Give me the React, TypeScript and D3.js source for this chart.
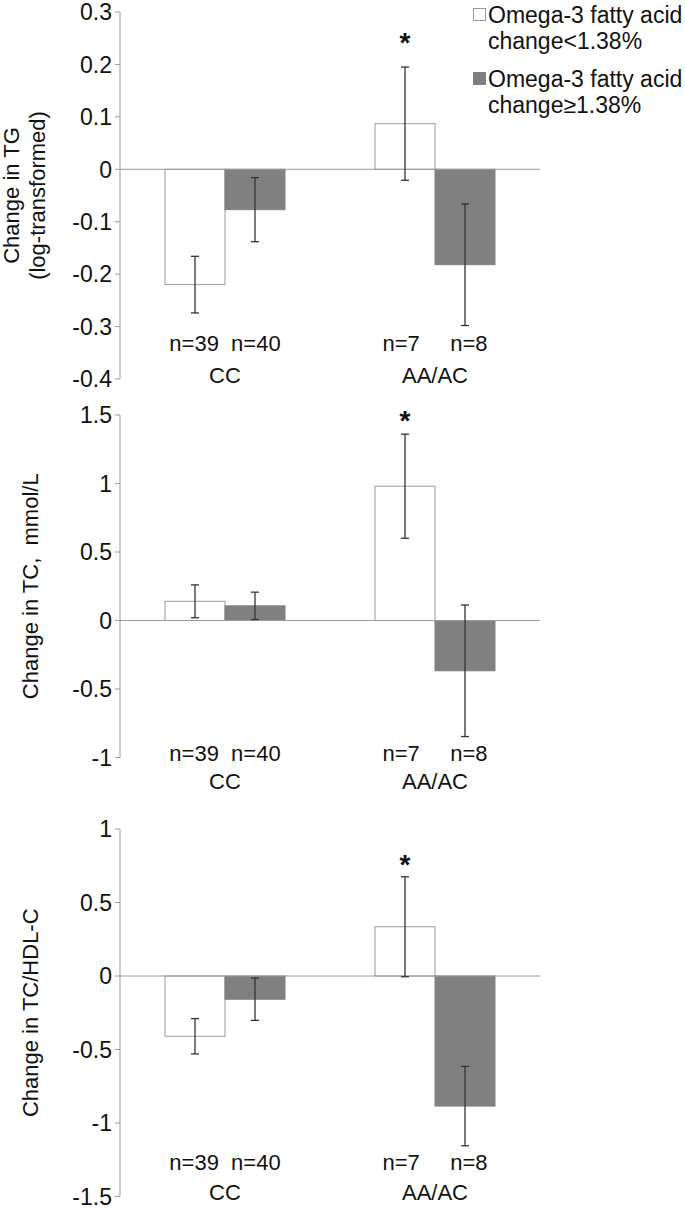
import React from 'react';
import * as d3 from 'd3';

// ---------- DATA ----------
const categories = ['CC', 'AA/AC'];
const seriesKeys = ['low', 'high'];
const legendLines = [
  ['Omega-3 fatty acid', 'change<1.38%'],
  ['Omega-3 fatty acid', 'change≥1.38%'],
];
const nLabels = ['n=39  n=40', 'n=7     n=8'];

// Panel 1: Change in TG (log-transformed)
const tgLow = [-0.22, 0.087];
const tgLowErr = [0.054, 0.108];
const tgHigh = [-0.077, -0.182];
const tgHighErr = [0.061, 0.116];
const tgTicks = [-0.4, -0.3, -0.2, -0.1, 0, 0.1, 0.2, 0.3];
const tgStar = [false, true];

// Panel 2: Change in TC, mmol/L
const tcLow = [0.14, 0.98];
const tcLowErr = [0.12, 0.38];
const tcHigh = [0.107, -0.367];
const tcHighErr = [0.1, 0.48];
const tcTicks = [-1, -0.5, 0, 0.5, 1, 1.5];
const tcStar = [false, true];

// Panel 3: Change in TC/HDL-C
const ratioLow = [-0.41, 0.335];
const ratioLowErr = [0.12, 0.34];
const ratioHigh = [-0.158, -0.885];
const ratioHighErr = [0.144, 0.27];
const ratioTicks = [-1.5, -1, -0.5, 0, 0.5, 1];
const ratioStar = [false, true];

// ---------- LAYOUT ----------
const W = 685;
const H = 1208;
const AXIS_X = 120;
const PLOT_RIGHT = 540;
const FONT = '"Liberation Sans", Arial, Helvetica, sans-serif';
const FS = 22;
const TICK_FS = 23;
const LEGEND_FS = 23;

const panels = [
  {
    title: ['Change in TG', '(log-transformed)'],
    titleX: [19, 45],
    top: 12, bottom: 379,
    ticks: tgTicks,
    low: tgLow, lowErr: tgLowErr, high: tgHigh, highErr: tgHighErr,
    star: tgStar, starGap: 15,
    nY: 351, catY: 383,
  },
  {
    title: ['Change in TC,  mmol/L'],
    titleX: [38],
    top: 415, bottom: 757.5,
    ticks: tcTicks,
    low: tcLow, lowErr: tcLowErr, high: tcHigh, highErr: tcHighErr,
    star: tcStar, starGap: 4,
    nY: 761, catY: 789,
  },
  {
    title: ['Change in TC/HDL-C'],
    titleX: [38],
    top: 829, bottom: 1196.5,
    ticks: ratioTicks,
    low: ratioLow, lowErr: ratioLowErr, high: ratioHigh, highErr: ratioHighErr,
    star: ratioStar, starGap: 3,
    nY: 1170, catY: 1200,
  },
];

const fmt = (v: number) => String(Number(v.toFixed(1)));

const x0 = d3.scaleBand<string>().domain(categories).range([AXIS_X, PLOT_RIGHT]).paddingInner(0).paddingOuter(0);
const x1 = d3.scaleBand<string>().domain(seriesKeys).range([0, x0.bandwidth()]).paddingInner(0).paddingOuter(0.75);

function Panel({ p }: { p: typeof panels[number] }) {
  const ext = d3.extent(p.ticks) as [number, number];
  const y = d3.scaleLinear().domain(ext).range([p.bottom, p.top]);
  const y0 = y(0);
  const midY = (p.top + p.bottom) / 2;
  const series = [
    { key: 'low', vals: p.low, errs: p.lowErr, fill: '#ffffff', stroke: '#9a9a9a' },
    { key: 'high', vals: p.high, errs: p.highErr, fill: '#808080', stroke: '#808080' },
  ];
  return (
    <g>
      {p.title.map((t, i) => (
        <text key={i} transform={`translate(${p.titleX[i]},${midY}) rotate(-90)`} textAnchor="middle"
          fontSize={FS} fill="#111" style={{ whiteSpace: 'pre' }}>{t}</text>
      ))}
      {p.ticks.map((t) => (
        <g key={t}>
          <line x1={AXIS_X - 5} x2={AXIS_X} y1={y(t)} y2={y(t)} stroke="#9a9a9a" strokeWidth={1} />
          <text x={AXIS_X - 8} y={y(t)} dy="0.36em" textAnchor="end" fontSize={TICK_FS} fill="#111">{fmt(t)}</text>
        </g>
      ))}
      {categories.map((c, ci) => (
        <g key={c}>
          {series.map((s) => {
            const v = s.vals[ci];
            const bx = (x0(c) as number) + (x1(s.key) as number);
            const bw = x1.bandwidth();
            const yv = y(v);
            return (
              <rect key={s.key} x={bx} y={Math.min(yv, y0)} width={bw} height={Math.abs(yv - y0)}
                fill={s.fill} stroke={s.stroke} strokeWidth={1} />
            );
          })}
        </g>
      ))}
      <line x1={AXIS_X} x2={PLOT_RIGHT} y1={y0} y2={y0} stroke="#9a9a9a" strokeWidth={1} />
      <line x1={AXIS_X} x2={AXIS_X} y1={p.top} y2={p.bottom} stroke="#9a9a9a" strokeWidth={1} />
      {categories.map((c, ci) => (
        <g key={c}>
          {series.map((s) => {
            const v = s.vals[ci];
            const e = s.errs[ci];
            const cx = (x0(c) as number) + (x1(s.key) as number) + x1.bandwidth() / 2;
            const yt = y(v + e);
            const yb = y(v - e);
            return (
              <g key={s.key} stroke="#333" strokeWidth={1.3}>
                <line x1={cx} x2={cx} y1={yt} y2={yb} />
                <line x1={cx - 4} x2={cx + 4} y1={yt} y2={yt} />
                <line x1={cx - 4} x2={cx + 4} y1={yb} y2={yb} />
              </g>
            );
          })}
          {p.star[ci] && (() => {
            const cx = (x0(c) as number) + (x1('low') as number) + x1.bandwidth() / 2;
            const yt = y(p.low[ci] + p.lowErr[ci]);
            return <text x={cx} y={yt - p.starGap} textAnchor="middle" fontSize={28} fontWeight="bold" fill="#111">*</text>;
          })()}
        </g>
      ))}
      {categories.map((c, ci) => {
        const cx = (x0(c) as number) + x0.bandwidth() / 2;
        return (
          <g key={c}>
            <text x={cx} y={p.nY} textAnchor="middle" fontSize={FS} fill="#111" style={{ whiteSpace: 'pre' }}>{nLabels[ci]}</text>
            <text x={cx} y={p.catY} textAnchor="middle" fontSize={FS} fill="#111">{c}</text>
          </g>
        );
      })}
    </g>
  );
}

function Legend() {
  const fills = ['#ffffff', '#808080'];
  const strokes = ['#9a9a9a', '#808080'];
  const baseY = [23, 87];
  return (
    <g>
      {legendLines.map((lines, i) => (
        <g key={i}>
          <rect x={473.5} y={baseY[i] - 14.5} width={12} height={12} fill={fills[i]} stroke={strokes[i]} strokeWidth={1} />
          {lines.map((t, j) => (
            <text key={j} x={488} y={baseY[i] + j * 26} fontSize={LEGEND_FS} fill="#111">{t}</text>
          ))}
        </g>
      ))}
    </g>
  );
}

export default function App() {
  return (
    <svg width={W} height={H} style={{ position: 'absolute', left: 0, top: 0, background: '#fff' }}
      fontFamily={FONT}>
      <rect x={0} y={0} width={W} height={H} fill="#fff" />
      {panels.map((p, i) => <Panel key={i} p={p} />)}
      <Legend />
    </svg>
  );
}
